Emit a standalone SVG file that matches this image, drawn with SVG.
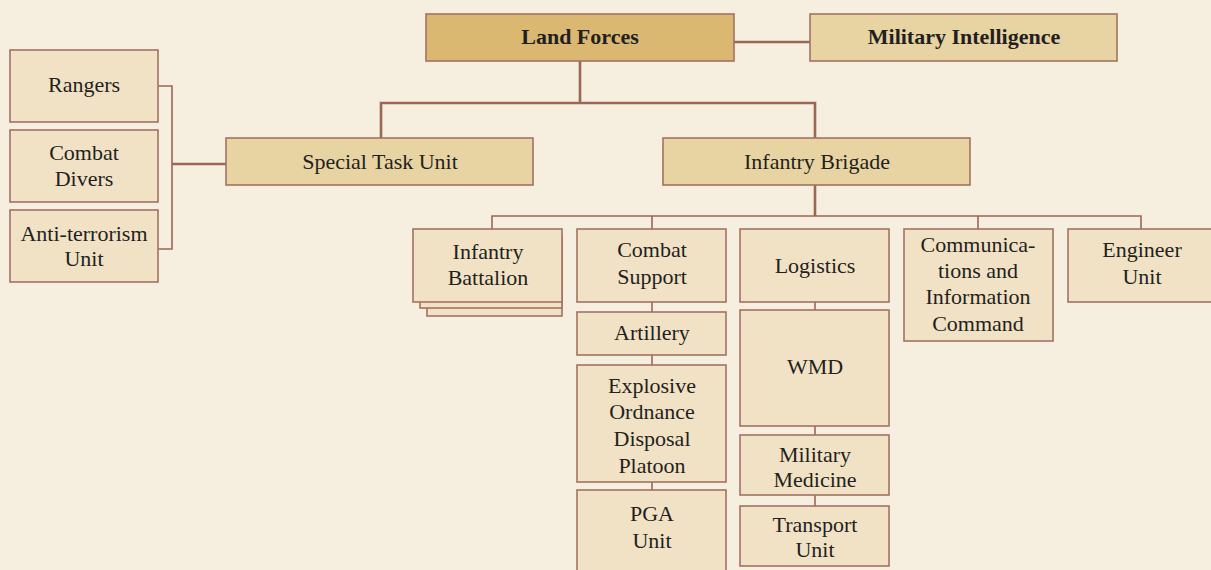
<svg xmlns="http://www.w3.org/2000/svg" width="1211" height="570" viewBox="0 0 1211 570">
<style>
.bx{fill:#f1e2c5;stroke:#a27362;stroke-width:1.6}
.mid{fill:#e8d3a2;stroke:#a27362;stroke-width:1.6}
.top{fill:#dbb872;stroke:#a27362;stroke-width:1.6}
text{font-family:"Liberation Serif","Times New Roman",serif;font-size:22px;fill:#231f20;text-anchor:middle}
.b{font-weight:bold}
.c{fill:none;stroke:#9b6753}
.thick{stroke-width:2.6}
.thin{stroke-width:1.6}
</style>
<rect width="1211" height="570" fill="#f6efe0"/>
<g id="connectors">
<path class="c thick" d="M734 42H810M580 61V103M381 138V103H815V138M815 185V216M172 164H226"/>
<path class="c thin" d="M158 86H172V249H158"/>
<path class="c thin" d="M492 229V216H1141V229M652 216V229M978 216V229"/>
<path class="c thin" d="M652 302V312M652 355V365M652 482V490M815 302V310M815 426V435M815 495V506"/>
</g>
<g id="land-forces"><rect class="top" x="426" y="14" width="308" height="47"/><text class="b" x="580" y="44">Land Forces</text></g>
<g id="military-intelligence"><rect class="mid" x="810" y="14" width="307" height="47"/><text class="b" x="964" y="44">Military Intelligence</text></g>
<g id="special-task-unit"><rect class="mid" x="226" y="138" width="307" height="47"/><text x="380" y="169">Special Task Unit</text></g>
<g id="infantry-brigade"><rect class="mid" x="663" y="138" width="307" height="47"/><text x="817" y="169">Infantry Brigade</text></g>
<g id="rangers"><rect class="bx" x="10" y="50" width="148" height="72"/><text x="84" y="92">Rangers</text></g>
<g id="combat-divers"><rect class="bx" x="10" y="130" width="148" height="72"/><text x="84" y="160">Combat</text><text x="84" y="186">Divers</text></g>
<g id="anti-terrorism"><rect class="bx" x="10" y="210" width="148" height="72"/><text x="84" y="241">Anti-terrorism</text><text x="84" y="266">Unit</text></g>
<g id="infantry-battalion">
<rect class="bx" x="427" y="243" width="135" height="73"/>
<rect class="bx" x="420" y="236" width="142" height="72"/>
<rect class="bx" x="413" y="229" width="149" height="73"/>
<text x="488" y="259">Infantry</text><text x="488" y="285">Battalion</text></g>
<g id="combat-support"><rect class="bx" x="577" y="229" width="149" height="73"/><text x="652" y="257">Combat</text><text x="652" y="284">Support</text></g>
<g id="artillery"><rect class="bx" x="577" y="312" width="149" height="43"/><text x="652" y="340">Artillery</text></g>
<g id="eod"><rect class="bx" x="577" y="365" width="149" height="117"/><text x="652" y="393">Explosive</text><text x="652" y="419">Ordnance</text><text x="652" y="446">Disposal</text><text x="652" y="473">Platoon</text></g>
<g id="pga"><rect class="bx" x="577" y="490" width="149" height="90"/><text x="652" y="521">PGA</text><text x="652" y="548">Unit</text></g>
<g id="logistics"><rect class="bx" x="740" y="229" width="149" height="73"/><text x="815" y="273">Logistics</text></g>
<g id="wmd"><rect class="bx" x="740" y="310" width="149" height="116"/><text x="815" y="374">WMD</text></g>
<g id="military-medicine"><rect class="bx" x="740" y="435" width="149" height="60"/><text x="815" y="462">Military</text><text x="815" y="487">Medicine</text></g>
<g id="transport"><rect class="bx" x="740" y="506" width="149" height="60"/><text x="815" y="532">Transport</text><text x="815" y="557">Unit</text></g>
<g id="communications"><rect class="bx" x="904" y="229" width="149" height="112"/><text x="978" y="252">Communica-</text><text x="978" y="278">tions and</text><text x="978" y="304">Information</text><text x="978" y="331">Command</text></g>
<g id="engineer"><rect class="bx" x="1068" y="229" width="149" height="73"/><text x="1142" y="257">Engineer</text><text x="1142" y="284">Unit</text></g>
</svg>
